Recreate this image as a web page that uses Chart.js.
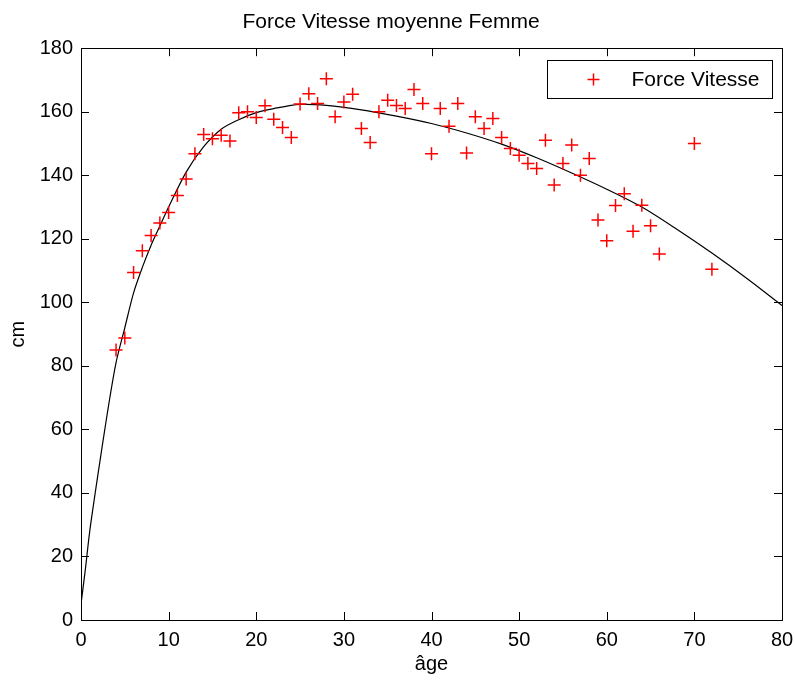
<!DOCTYPE html>
<html>
<head>
<meta charset="utf-8">
<script src="https://cdn.jsdelivr.net/npm/chart.js@4/dist/chart.umd.min.js"></script>
<style>
  html, body { margin: 0; padding: 0; background: #fff; }
  .chart-wrapper { width: 795px; height: 682px; }
</style>
</head>
<body>
<div class="chart-wrapper">
  <canvas id="chart"></canvas>
</div>
<script>
// measured points (age, cm)
const ages = [4, 5, 6, 7, 8, 9, 10, 11, 12, 13, 14, 15, 16, 17, 18, 19, 20, 21, 22, 23,
  24, 25, 26, 27, 28, 29, 30, 31, 32, 33, 34, 35, 36, 37, 38, 39, 40, 41, 42, 43,
  44, 45, 46, 47, 48, 49, 50, 51, 52, 53, 54, 55, 56, 57, 58, 59, 60, 61, 62, 63,
  64, 65, 66, 70, 72];
const forceVitesse = [85, 88.8, 109.4, 116.2, 121, 125, 128.3, 133.6, 138.8, 146.8,
  152.8, 151.5, 152.6, 150.8, 159.7, 160, 158.2, 161.9, 157.6, 155,
  151.9, 162.4, 165.7, 162.6, 170.4, 158.4, 163.1, 165.5, 154.7, 150.3,
  160, 163.6, 162, 161, 167, 162.6, 146.8, 161, 155.4, 162.6,
  147, 158.4, 154.7, 157.9, 151.9, 148.4, 146.3, 143.7, 142.1, 151,
  136.9, 143.7, 149.5, 140, 145.3, 125.9, 119.4, 130.5, 134.2, 122.4,
  130.6, 124.1, 115.2, 150, 110.4];

// fitted curve
const curveAges = [0, 0.5, 1, 2, 3, 4, 5, 6, 7, 8, 9, 10, 12, 14, 16, 18, 20, 22, 25,
  28, 32, 36, 40, 44, 48, 52, 56, 60, 64, 68, 72, 76, 80];
const curveValues = [5, 16, 28, 47, 65, 81, 92, 103, 111, 118, 124, 130, 141, 149,
  154.5, 157.5, 159.7, 161, 162.3, 162, 160.6, 158.6, 156.3, 153.3, 149.8, 145.5,
  140.7, 135.6, 130, 123, 115.5, 107.5, 99];

const xTicks = [0, 10, 20, 30, 40, 50, 60, 70, 80];
const yTicks = [0, 20, 40, 60, 80, 100, 120, 140, 160, 180];

const FONT = "'Liberation Sans', Arial, sans-serif";

// box + inward ticks on all four sides, like the matlab figure
const frameTicks = {
  id: "frameTicks",
  afterDraw(chart) {
    const { ctx, chartArea: a, scales } = chart;
    const len = 8;
    ctx.save();
    ctx.strokeStyle = "#000";
    ctx.lineWidth = 1;
    ctx.beginPath();
    xTicks.forEach((v) => {
      const x = Math.round(scales.x.getPixelForValue(v)) + 0.5;
      ctx.moveTo(x, a.bottom); ctx.lineTo(x, a.bottom - len);
      ctx.moveTo(x, a.top); ctx.lineTo(x, a.top + len);
    });
    yTicks.forEach((v) => {
      const y = Math.round(scales.y.getPixelForValue(v)) + 0.5;
      ctx.moveTo(a.left, y); ctx.lineTo(a.left + len, y);
      ctx.moveTo(a.right, y); ctx.lineTo(a.right - len, y);
    });
    ctx.stroke();
    ctx.strokeRect(Math.round(a.left) + 0.5, Math.round(a.top) + 0.5,
      Math.round(a.right - a.left), Math.round(a.bottom - a.top));
    ctx.restore();
  },
};

// legend box in the upper right corner of the plot
const insideLegend = {
  id: "insideLegend",
  afterDraw(chart) {
    const { ctx, chartArea: a } = chart;
    const w = 225, h = 38;
    const x0 = Math.round(a.right) - 10 - w + 0.5;
    const y0 = Math.round(a.top) + 12 + 0.5;
    ctx.save();
    ctx.fillStyle = "#fff";
    ctx.fillRect(x0, y0, w, h);
    ctx.strokeStyle = "#000";
    ctx.lineWidth = 1;
    ctx.strokeRect(x0, y0, w, h);
    const cx = x0 + 46, cy = y0 + h / 2;
    ctx.strokeStyle = "#ff0000";
    ctx.lineWidth = 1.5;
    ctx.beginPath();
    ctx.moveTo(cx - 6, cy); ctx.lineTo(cx + 6, cy);
    ctx.moveTo(cx, cy - 6); ctx.lineTo(cx, cy + 6);
    ctx.stroke();
    ctx.fillStyle = "#000";
    ctx.font = "21px " + FONT;
    ctx.textBaseline = "middle";
    ctx.fillText(chart.data.datasets[0].label, x0 + 84, cy + 1);
    ctx.restore();
  },
};

const ctx = document.getElementById("chart").getContext("2d");
new Chart(ctx, {
  type: "scatter",
  data: {
    datasets: [
      {
        label: "Force Vitesse",
        data: ages.map((a, i) => ({ x: a, y: forceVitesse[i] })),
        pointStyle: "cross",
        pointRadius: 6.5,
        pointBorderWidth: 1.5,
        borderColor: "#ff0000",
        backgroundColor: "#ff0000",
        showLine: false,
        order: 0,
      },
      {
        label: "fit",
        data: curveAges.map((a, i) => ({ x: a, y: curveValues[i] })),
        showLine: true,
        pointRadius: 0,
        borderColor: "#000",
        borderWidth: 1.2,
        tension: 0.3,
        order: 1,
      },
    ],
  },
  options: {
    responsive: true,
    maintainAspectRatio: false,
    animation: false,
    layout: { padding: { top: 0, right: 13, bottom: 0, left: 0 } },
    plugins: {
      legend: { display: false },
      tooltip: { enabled: false },
      title: {
        display: true,
        text: "Force Vitesse moyenne Femme",
        color: "#000",
        font: { family: FONT, size: 21, weight: "normal" },
        padding: { top: 10, bottom: 13 },
      },
    },
    scales: {
      x: {
        type: "linear",
        min: 0,
        max: 80,
        afterFit: (s) => { s.height = 62; s.paddingLeft = 0; s.paddingRight = 0; },
        afterBuildTicks: (s) => { s.ticks = xTicks.map((v) => ({ value: v })); },
        grid: { display: false, drawTicks: false },
        border: { display: false },
        ticks: { color: "#000", padding: 8, maxRotation: 0, font: { family: FONT, size: 20 } },
        title: {
          display: true,
          text: "âge",
          color: "#000",
          font: { family: FONT, size: 20 },
          padding: { top: 0, bottom: 6 },
        },
      },
      y: {
        min: 0,
        max: 180,
        afterFit: (s) => { s.width = 81; s.paddingTop = 0; s.paddingBottom = 0; },
        afterBuildTicks: (s) => { s.ticks = yTicks.map((v) => ({ value: v })); },
        grid: { display: false, drawTicks: false },
        border: { display: false },
        ticks: { color: "#000", padding: 8, font: { family: FONT, size: 20 } },
        title: {
          display: true,
          text: "cm",
          color: "#000",
          font: { family: FONT, size: 20 },
          padding: { top: 6, bottom: 0 },
        },
      },
    },
  },
  plugins: [frameTicks, insideLegend],
});
</script>
</body>
</html>
